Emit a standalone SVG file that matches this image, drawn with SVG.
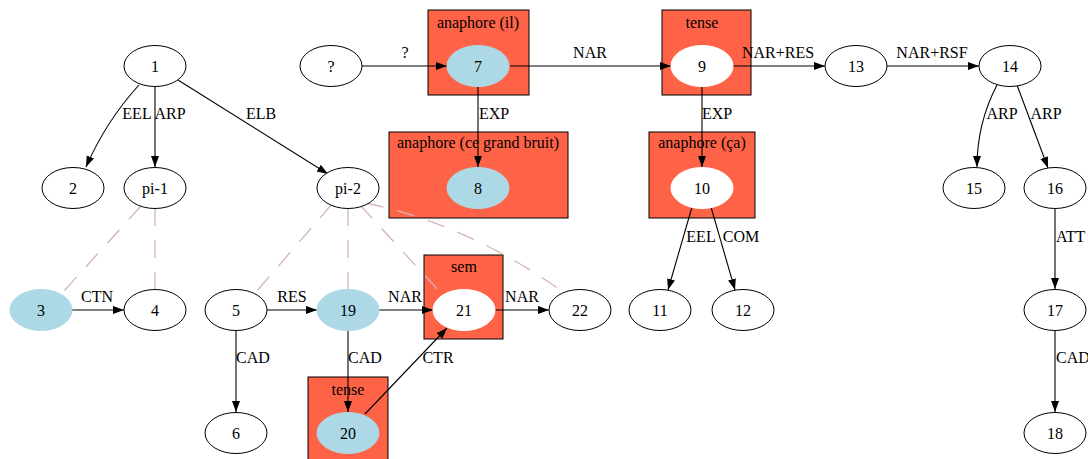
<svg xmlns="http://www.w3.org/2000/svg" width="1088" height="459" viewBox="0 0 1088 459">
<style>
text{font-family:"Liberation Serif","Times New Roman",serif;font-size:16px;fill:#000;text-anchor:middle}
.n{fill:#fff;stroke:#000;stroke-width:1}
.b{fill:#add8e6;stroke:#add8e6}
.w{fill:#fff;stroke:#fff}
.cl{fill:#ff6347;stroke:#000;stroke-width:1}
.e{fill:none;stroke:#000;stroke-width:1.1;marker-end:url(#ah)}
.d{fill:none;stroke:#d4b4b8;stroke-width:1.3;stroke-dasharray:18,14}
.s{text-anchor:start}
</style>
<defs>
<marker id="ah" markerUnits="userSpaceOnUse" markerWidth="11" markerHeight="9" refX="11" refY="4" orient="auto">
<path d="M0,0 L11,4 L0,8 z" fill="#000"/>
</marker>
</defs>
<rect width="1088" height="459" fill="#fff"/>
<g id="clusters">
<g id="cl-anaphore-il"><rect class="cl" x="428" y="10" width="101" height="85"/><text x="478" y="28">anaphore (il)</text></g>
<g id="cl-anaphore-cgb"><rect class="cl" x="389" y="132" width="179" height="86"/><text x="478" y="148">anaphore (ce grand bruit)</text></g>
<g id="cl-tense-9"><rect class="cl" x="662" y="10" width="89" height="85"/><text x="702" y="28">tense</text></g>
<g id="cl-anaphore-ca"><rect class="cl" x="649" y="132" width="106" height="86"/><text x="702" y="148">anaphore (ça)</text></g>
<g id="cl-sem"><rect class="cl" x="424" y="255" width="79" height="84"/><text x="464" y="272">sem</text></g>
<g id="cl-tense-20"><rect class="cl" x="308" y="377" width="80" height="95"/><text x="348" y="395">tense</text></g>
</g>
<g id="connectors">
<path class="e" d="M139,85 C118,108 100,135 86,167"/>
<text x="137" y="119">EEL</text>
<path class="e" d="M155,87 L155,167"/>
<text x="170" y="119">ARP</text>
<path class="e" d="M178,80 L328,174"/>
<text x="261" y="119">ELB</text>
<path class="e" d="M362,66 L447,66"/>
<text x="405" y="58">?</text>
<path class="e" d="M510,66 L671,66"/>
<text x="590" y="58">NAR</text>
<path class="e" d="M478,87 L478,167"/>
<text x="494" y="119">EXP</text>
<path class="e" d="M733,66 L825,66"/>
<text x="778" y="58">NAR+RES</text>
<path class="e" d="M702,87 L702,167"/>
<text x="717" y="119">EXP</text>
<path class="e" d="M887,66 L979,66"/>
<text x="932" y="58">NAR+RSF</text>
<path class="e" d="M997,85 C985,108 977,135 977,167"/>
<text x="1002" y="119">ARP</text>
<path class="e" d="M1017,85 L1048,168"/>
<text x="1046" y="119">ARP</text>
<path class="e" d="M1055,208 L1055,289"/>
<text class="s" x="1056" y="242">ATT</text>
<path class="e" d="M1055,331 L1055,412"/>
<text class="s" x="1056" y="363">CAD</text>
<path class="e" d="M692,207 L668,290"/>
<text x="701" y="242">EEL</text>
<path class="e" d="M711,207 L735,290"/>
<text x="741" y="242">COM</text>
<path class="d" d="M141,206 L64,291"/>
<path class="d" d="M155,208 L155,290"/>
<path class="d" d="M332,204 L256,292"/>
<path class="d" d="M348,208 L348,290"/>
<path class="d" d="M360,205 L440,292"/>
<path class="d" d="M366,203 Q470,225 566,294"/>
<path class="e" d="M72,310 L124,310"/>
<text x="97" y="302">CTN</text>
<path class="e" d="M267,310 L317,310"/>
<text x="292" y="302">RES</text>
<path class="e" d="M236,331 L236,412"/>
<text x="253" y="363">CAD</text>
<path class="e" d="M379,310 L433,310"/>
<text x="405" y="302">NAR</text>
<path class="e" d="M348,331 L348,412"/>
<text x="365" y="363">CAD</text>
<path class="e" d="M365,414 L447,328"/>
<text x="438" y="363">CTR</text>
<path class="e" d="M494,310 L549,310"/>
<text x="522" y="302">NAR</text>
</g>
<g id="n1"><ellipse class="n" cx="155" cy="66" rx="31" ry="20.5"/><text x="155" y="71.5">1</text></g>
<g id="n2"><ellipse class="n" cx="73" cy="188" rx="31" ry="20.5"/><text x="73" y="193.5">2</text></g>
<g id="npi1"><ellipse class="n" cx="155" cy="188" rx="31" ry="20.5"/><text x="155" y="193.5">pi-1</text></g>
<g id="npi2"><ellipse class="n" cx="348" cy="188" rx="31" ry="20.5"/><text x="348" y="193.5">pi-2</text></g>
<g id="nq"><ellipse class="n" cx="331" cy="66" rx="31" ry="20.5"/><text x="331" y="71.5">?</text></g>
<g id="n7"><ellipse class="b" cx="478" cy="66" rx="31" ry="20.5"/><text x="478" y="71.5">7</text></g>
<g id="n8"><ellipse class="b" cx="478" cy="188" rx="31" ry="20.5"/><text x="478" y="193.5">8</text></g>
<g id="n9"><ellipse class="w" cx="702" cy="66" rx="31" ry="20.5"/><text x="702" y="71.5">9</text></g>
<g id="n10"><ellipse class="w" cx="702" cy="188" rx="31" ry="20.5"/><text x="702" y="193.5">10</text></g>
<g id="n13"><ellipse class="n" cx="856" cy="66" rx="31" ry="20.5"/><text x="856" y="71.5">13</text></g>
<g id="n14"><ellipse class="n" cx="1010" cy="66" rx="31" ry="20.5"/><text x="1010" y="71.5">14</text></g>
<g id="n15"><ellipse class="n" cx="974" cy="188" rx="31" ry="20.5"/><text x="974" y="193.5">15</text></g>
<g id="n16"><ellipse class="n" cx="1055" cy="188" rx="31" ry="20.5"/><text x="1055" y="193.5">16</text></g>
<g id="n17"><ellipse class="n" cx="1055" cy="310" rx="31" ry="20.5"/><text x="1055" y="315.5">17</text></g>
<g id="n18"><ellipse class="n" cx="1055" cy="433" rx="31" ry="20.5"/><text x="1055" y="438.5">18</text></g>
<g id="n11"><ellipse class="n" cx="660" cy="310" rx="31" ry="20.5"/><text x="660" y="315.5">11</text></g>
<g id="n12"><ellipse class="n" cx="743" cy="310" rx="31" ry="20.5"/><text x="743" y="315.5">12</text></g>
<g id="n3"><ellipse class="b" cx="41" cy="310" rx="31" ry="20.5"/><text x="41" y="315.5">3</text></g>
<g id="n4"><ellipse class="n" cx="155" cy="310" rx="31" ry="20.5"/><text x="155" y="315.5">4</text></g>
<g id="n5"><ellipse class="n" cx="236" cy="310" rx="31" ry="20.5"/><text x="236" y="315.5">5</text></g>
<g id="n6"><ellipse class="n" cx="236" cy="433" rx="31" ry="20.5"/><text x="236" y="438.5">6</text></g>
<g id="n19"><ellipse class="b" cx="348" cy="310" rx="31" ry="20.5"/><text x="348" y="315.5">19</text></g>
<g id="n20"><ellipse class="b" cx="348" cy="433" rx="31" ry="20.5"/><text x="348" y="438.5">20</text></g>
<g id="n21"><ellipse class="w" cx="464" cy="310" rx="31" ry="20.5"/><text x="464" y="315.5">21</text></g>
<g id="n22"><ellipse class="n" cx="580" cy="310" rx="31" ry="20.5"/><text x="580" y="315.5">22</text></g>
</svg>
